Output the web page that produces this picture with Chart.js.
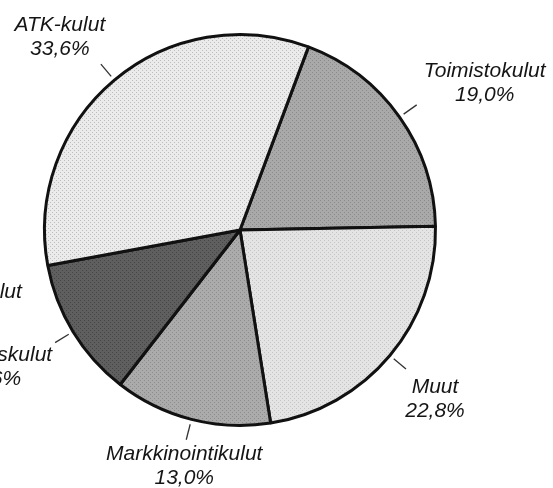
<!DOCTYPE html>
<html>
<head>
<meta charset="utf-8">
<script src="https://cdn.jsdelivr.net/npm/chart.js@4.4.1/dist/chart.umd.min.js"></script>
<style>
  html, body { margin: 0; padding: 0; background: #fff; overflow: hidden; }
  body { width: 553px; height: 488px; position: relative; }
  #wrap { position: absolute; left: -140px; top: 0; width: 700px; height: 488px; }
</style>
</head>
<body>
<div id="wrap"><canvas id="pie" width="700" height="488"></canvas></div>
<script>
// slices clockwise, starting from the top right
const categories = ['Toimistokulut', 'Muut', 'Markkinointikulut', 'Edustuskulut', 'ATK-kulut'];
const shares = [19.0, 22.8, 13.0, 11.6, 33.6];
const shareLabels = ['19,0%', '22,8%', '13,0%', '11,6%', '33,6%'];
// the line above the dark slice's label, only its end shows in the picture
const extraLine = 'Matkakulut';

// grey tones of the printed hatching: base colour + dot colour
const tones = [
    ['#a9a9a9', '#8a8a8a'],
    ['#e4e4e4', '#c4c4c4'],
    ['#ababab', '#8c8c8c'],
    ['#5f5f5f', '#454545'],
    ['#ebebeb', '#bdbdbd'],
];

function stipple(base, dot) {
    const c = document.createElement('canvas');
    c.width = 4; c.height = 4;
    const g = c.getContext('2d');
    g.fillStyle = base;
    g.fillRect(0, 0, 4, 4);
    g.fillStyle = dot;
    g.fillRect(0, 0, 1, 1);
    g.fillRect(2, 2, 1, 1);
    return g.createPattern(c, 'repeat');
}

// where each label sits, relative to the end of its leader tick
const labelShift = [[68, -28], [29, 24], [-2, 20], [-63, 18], [-41, -33]];
const lineHeight = 24;

const leaderLabels = {
    id: 'leaderLabels',
    afterDatasetsDraw(chart) {
        const ctx = chart.ctx;
        const arcs = chart.getDatasetMeta(0).data;
        ctx.save();
        ctx.font = 'italic 21px "Liberation Sans", Arial, sans-serif';
        ctx.fillStyle = '#151515';
        ctx.strokeStyle = '#333';
        ctx.lineWidth = 1.3;
        ctx.textAlign = 'center';
        ctx.textBaseline = 'alphabetic';
        arcs.forEach((arc, i) => {
            const p = arc.getProps(['x', 'y', 'startAngle', 'endAngle', 'outerRadius'], true);
            const mid = (p.startAngle + p.endAngle) / 2;
            const cos = Math.cos(mid), sin = Math.sin(mid);
            const r0 = p.outerRadius + 5, r1 = p.outerRadius + 21;
            const ex = p.x + cos * r1, ey = p.y + sin * r1;
            ctx.beginPath();
            ctx.moveTo(p.x + cos * r0, p.y + sin * r0);
            ctx.lineTo(ex, ey);
            ctx.stroke();
            const tx = ex + labelShift[i][0], ty = ey + labelShift[i][1];
            ctx.fillText(categories[i], tx, ty);
            ctx.fillText(shareLabels[i], tx, ty + lineHeight);
            if (i === 3) {
                ctx.fillText(extraLine, tx - 21, ty - 63);
            }
        });
        ctx.restore();
    }
};

const myChart = new Chart(document.getElementById('pie'), {
    type: 'pie',
    data: {
        labels: categories,
        datasets: [{
            data: shares,
            backgroundColor: tones.map(t => stipple(t[0], t[1])),
            borderColor: '#111',
            borderWidth: 3,
        }],
    },
    options: {
        responsive: false,
        animation: false,
        devicePixelRatio: 1,
        rotation: 20.5,
        layout: { padding: { left: 183, right: 123, top: 33, bottom: 61 } },
        plugins: {
            legend: { display: false },
            tooltip: { enabled: false },
        },
    },
    plugins: [leaderLabels],
});
</script>
</body>
</html>
